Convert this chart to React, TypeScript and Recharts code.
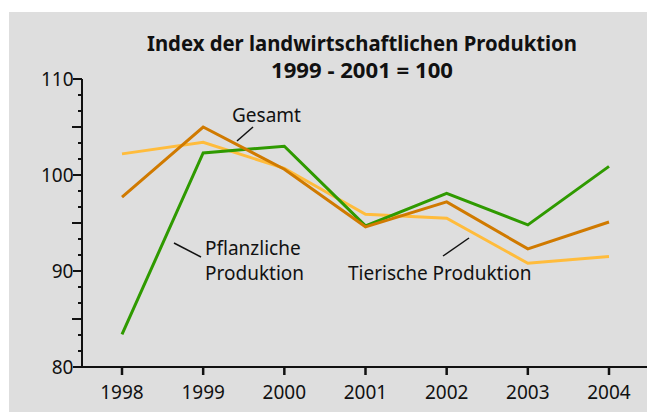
import { LineChart, Line, XAxis, YAxis, Customized } from 'recharts'

const years = ['1998', '1999', '2000', '2001', '2002', '2003', '2004']
const gesamt = [97.7, 105.0, 100.6, 94.6, 97.2, 92.3, 95.1]
const pflanzlich = [83.4, 102.3, 103.0, 94.7, 98.1, 94.8, 100.9]
const tierisch = [102.2, 103.4, 100.7, 95.9, 95.5, 90.8, 91.5]

// y ticks: majors every 10, mid at 5, minors at thirds of 5
const yTicks = [
  80, 81.667, 83.333, 85, 86.667, 88.333,
  90, 91.667, 93.333, 95, 96.667, 98.333,
  100, 101.667, 103.333, 105, 106.667, 108.333, 110,
]

const titleLines = ['Index der landwirtschaftlichen Produktion', '1999 - 2001 = 100']

const data = years.map((year, i) => ({
  year,
  gesamt: gesamt[i],
  pflanzlich: pflanzlich[i],
  tierisch: tierisch[i],
}))

const font = '"Noto Sans", sans-serif'
const ink = '#111'

function YTick(props: any) {
  const { x, y, payload } = props
  const v = payload.value
  const r = Math.round(v)
  const isInt = Math.abs(v - r) < 0.01
  const major = isInt && r % 10 === 0
  const mid = isInt && r % 10 === 5
  const len = major ? 9 : mid ? 10 : 4
  return (
    <g>
      <line x1={x - len} x2={x} y1={y} y2={y} stroke={ink} strokeWidth={2} />
      {major && (
        <text x={x - len + 0.5} y={y} dy={7} textAnchor="end" fontSize={19} fontFamily={font} fill={ink}>
          {r}
        </text>
      )}
    </g>
  )
}

function Annotations() {
  const t = { fontSize: 19, fontFamily: font, fill: ink }
  return (
    <g>
      <text x={362} y={51} textAnchor="middle" fontSize={21} fontWeight="bold" fontFamily={font} fill={ink}
        textLength={430} lengthAdjust="spacingAndGlyphs">
        {titleLines[0]}
      </text>
      <text x={362} y={78} textAnchor="middle" fontSize={21} fontWeight="bold" fontFamily={font} fill={ink}
        textLength={182} lengthAdjust="spacingAndGlyphs">
        {titleLines[1]}
      </text>

      <text x={232} y={122} {...t}>Gesamt</text>
      <line x1={237} y1={141} x2={253} y2={127} stroke={ink} strokeWidth={1.5} />

      <text x={205} y={255} {...t}>Pflanzliche</text>
      <text x={205} y={280} {...t}>Produktion</text>
      <line x1={174} y1={243} x2={201} y2={257} stroke={ink} strokeWidth={1.5} />

      <text x={348} y={280} {...t}>Tierische Produktion</text>
      <line x1={443} y1={256} x2={469} y2={238} stroke={ink} strokeWidth={1.5} />
    </g>
  )
}

export default function App() {
  return (
    <div style={{ position: 'absolute', left: 0, top: 0, width: 647, height: 412, background: '#fff' }}>
      <div style={{ position: 'absolute', left: 9, top: 12, width: 638, height: 400, background: '#dedede' }} />
      <div style={{ position: 'absolute', left: 0, top: 0 }}>
        <LineChart
          width={647}
          height={412}
          data={data}
          margin={{ top: 79, right: 0, bottom: 0, left: 0 }}
          style={{ fontFamily: font }}
        >
          <XAxis
            dataKey="year"
            height={45}
            padding={{ left: 40, right: 38 }}
            axisLine={{ stroke: ink, strokeWidth: 2 }}
            tickLine={{ stroke: ink, strokeWidth: 2.5 }}
            tickSize={8}
            tickMargin={11}
            tick={{ fontSize: 19, fill: ink, fontFamily: font }}
            interval={0}
          />
          <YAxis
            width={82}
            domain={[80, 110]}
            ticks={yTicks}
            interval={0}
            allowDataOverflow
            axisLine={{ stroke: ink, strokeWidth: 2 }}
            tickLine={false}
            tickSize={0}
            tickMargin={0}
            tick={<YTick />}
          />
          <Line type="linear" dataKey="tierisch" stroke="#ffbc3c" strokeWidth={3} dot={false} isAnimationActive={false} />
          <Line type="linear" dataKey="pflanzlich" stroke="#2f9a00" strokeWidth={3} dot={false} isAnimationActive={false} />
          <Line type="linear" dataKey="gesamt" stroke="#d07a00" strokeWidth={3} dot={false} isAnimationActive={false} />
          <Customized component={<Annotations />} />
        </LineChart>
      </div>
    </div>
  )
}
